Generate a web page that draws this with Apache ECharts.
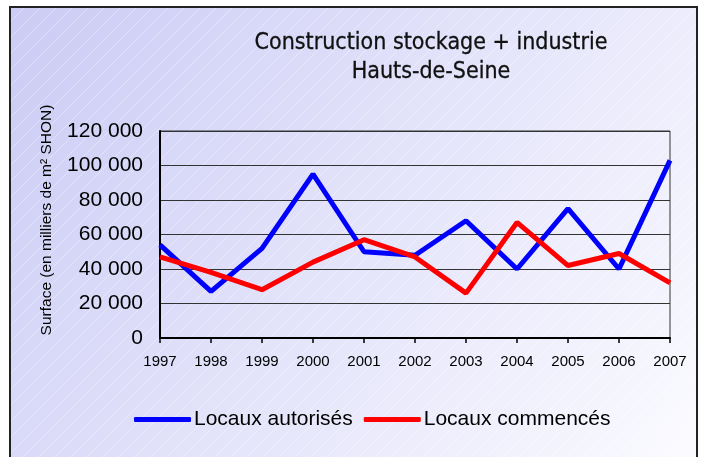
<!DOCTYPE html>
<html><head><meta charset="utf-8">
<script src="https://cdn.jsdelivr.net/npm/echarts@6/dist/echarts.min.js"></script>
<style>html,body{margin:0;padding:0;background:#fff}#c{width:704px;height:457px}</style>
</head><body><div id="c"></div>
<script>
var years = ['1997','1998','1999','2000','2001','2002','2003','2004','2005','2006','2007'];
var autorises = [54000, 27000, 52000, 95000, 50000, 48000, 68000, 40000, 75000, 40000, 103000];
var commences = [47000, 38000, 28000, 44000, 57000, 47000, 26000, 67000, 42000, 49000, 32000];
var yTicks = [0, 20000, 40000, 60000, 80000, 100000, 120000];

function hatch(){
  var cv = document.createElement('canvas');
  cv.width = 16; cv.height = 16;
  var g = cv.getContext('2d');
  g.strokeStyle = 'rgba(255,255,255,0.35)';
  g.lineWidth = 1;
  g.beginPath();
  g.moveTo(0,16); g.lineTo(16,0);
  g.moveTo(-8,8); g.lineTo(8,-8);
  g.moveTo(8,24); g.lineTo(24,8);
  g.stroke();
  return cv;
}
var chart = echarts.init(document.getElementById('c'), null, {renderer:'canvas'});
var fmt = function(v){ return String(v).replace(/\B(?=(\d{3})+(?!\d))/g, ' '); };
var sans = 'Liberation Sans, Arial, sans-serif';
chart.setOption({
  animation: false,
  graphic: [
    {type:'rect', z:-10, shape:{x:10,y:7,width:687,height:460},
     style:{fill:{type:'linear',x:0,y:0,x2:1,y2:1,colorStops:[{offset:0,color:'#cbcbf5'},{offset:0.55,color:'#e6e6fb'},{offset:1,color:'#fbfbff'}]}, stroke:'#222', lineWidth:2}},
    {type:'rect', z:-9, shape:{x:11,y:8,width:685,height:458},
     style:{fill:{image:hatch(), repeat:'repeat'}}},
    {type:'text', z:5, x:47, y:220, rotation: Math.PI/2,
     style:{text:'Surface (en milliers de m² SHON)', font:'15.5px Liberation Sans, Arial, sans-serif', fill:'#000', align:'center', verticalAlign:'middle'}}
  ],
  title: {
    text: 'Construction stockage + industrie\nHauts-de-Seine',
    left: 431, top: 29, textAlign: 'center', padding: 0,
    textStyle: {fontFamily:'DejaVu Sans Condensed, Liberation Sans Narrow, sans-serif', fontSize: 23, fontWeight: 'normal', color:'#111', lineHeight: 29, textBorderColor:'#111', textBorderWidth:0.3}
  },
  legend: {
    top: 409, left: 134, padding: 0,
    itemWidth: 57, itemHeight: 5, itemGap: 11,
    textStyle: {fontFamily: sans, fontSize: 21, color:'#000', padding:[0,0,0,-2]},
    data: [{name:'Locaux autorisés', icon:'roundRect'}, {name:'Locaux commencés', icon:'roundRect'}]
  },
  grid: {left:160, right:34, top:131, bottom:119, show:true, borderColor:'#333', borderWidth:1, backgroundColor:'transparent'},
  xAxis: {
    type:'category', data: years, boundaryGap:false,
    axisLine:{lineStyle:{color:'#000', width:2}},
    axisTick:{show:true, length:5, lineStyle:{color:'#000', width:1.5}},
    axisLabel:{fontFamily: sans, fontSize:15, color:'#000', margin:16}
  },
  yAxis: {
    type:'value', min:0, max:120000, interval:20000,
    axisLine:{show:true, lineStyle:{color:'#000', width:2}},
    axisTick:{show:false},
    splitLine:{lineStyle:{color:'#333', width:1}},
    axisLabel:{fontFamily: sans, fontSize:21, color:'#000', margin:17, formatter: fmt}
  },
  series: [
    {name:'Locaux autorisés', type:'line', data: autorises, symbol:'none', color:'#0000ff', lineStyle:{width:5, color:'#0000ff'}, z:3},
    {name:'Locaux commencés', type:'line', data: commences, symbol:'none', color:'#ff0000', lineStyle:{width:5, color:'#ff0000'}, z:4}
  ]
});
</script></body></html>
